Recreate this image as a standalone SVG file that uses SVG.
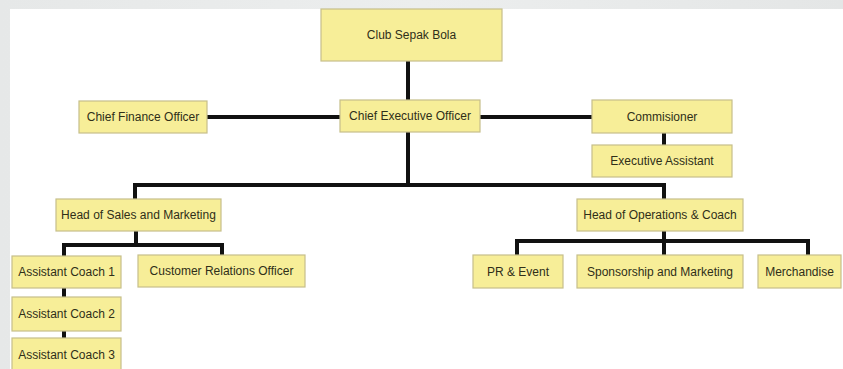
<svg xmlns="http://www.w3.org/2000/svg" width="843" height="369" viewBox="0 0 843 369">
  <style>
    .box rect { fill: #f7ee98; stroke: #c6bf8a; stroke-width: 1.2; }
    .box text { font-family: "Liberation Sans", Arial, sans-serif; font-size: 12px; fill: #2f2f18; text-anchor: middle; dominant-baseline: central; }
    #connectors path { fill: none; stroke: #111; stroke-width: 4; stroke-linejoin: miter; stroke-linecap: butt; }
  </style>
  <defs>
    <linearGradient id="bg" x1="0" y1="0" x2="1" y2="0">
      <stop offset="0" stop-color="#e6e8e8"/>
      <stop offset="0.5" stop-color="#eceeee"/>
      <stop offset="1" stop-color="#e4e6e6"/>
    </linearGradient>
  </defs>

  <!-- page background and white sheet -->
  <rect x="0" y="0" width="843" height="369" fill="url(#bg)"/>
  <rect x="10" y="9" width="833" height="360" fill="#ffffff"/>

  <!-- connectors -->
  <g id="connectors">
    <path d="M408 61 V100"/>
    <path d="M207 117 H340"/>
    <path d="M480 117 H592"/>
    <path d="M664 133 V145"/>
    <path d="M408 132 V185"/>
    <path d="M135 199 V185 H664 V199"/>
    <path d="M136 231 V245"/>
    <path d="M64 256 V245 H222 V256"/>
    <path d="M664 231 V255"/>
    <path d="M517 255 V241 H808 V255"/>
    <path d="M64 288 V297"/>
    <path d="M64 331 V338"/>
  </g>

  <!-- nodes -->
  <g id="club" class="box"><rect x="321" y="9" width="181" height="52"/><text x="411.5" y="35">Club Sepak Bola</text></g>
  <g id="cfo" class="box"><rect x="79" y="101" width="128" height="32"/><text x="143" y="117">Chief Finance Officer</text></g>
  <g id="ceo" class="box"><rect x="340" y="100" width="140" height="32"/><text x="410" y="116">Chief Executive Officer</text></g>
  <g id="commissioner" class="box"><rect x="592" y="100" width="140" height="33"/><text x="662" y="116.5">Commisioner</text></g>
  <g id="exec-assistant" class="box"><rect x="592" y="145" width="140" height="32"/><text x="662" y="161">Executive Assistant</text></g>
  <g id="head-sales" class="box"><rect x="56" y="199" width="165" height="32"/><text x="138.5" y="215">Head of Sales and Marketing</text></g>
  <g id="head-ops" class="box"><rect x="577" y="199" width="166" height="32"/><text x="660" y="215">Head of Operations &amp; Coach</text></g>
  <g id="asst-coach-1" class="box"><rect x="12" y="256" width="109" height="32"/><text x="66.5" y="272">Assistant Coach 1</text></g>
  <g id="cust-relations" class="box"><rect x="138" y="255" width="167" height="32"/><text x="221.5" y="271">Customer Relations Officer</text></g>
  <g id="asst-coach-2" class="box"><rect x="12" y="297" width="109" height="34"/><text x="66.5" y="314">Assistant Coach 2</text></g>
  <g id="asst-coach-3" class="box"><rect x="12" y="338" width="109" height="34"/><text x="66.5" y="355">Assistant Coach 3</text></g>
  <g id="pr-event" class="box"><rect x="473" y="255" width="90" height="33"/><text x="518" y="271.5">PR &amp; Event</text></g>
  <g id="sponsorship" class="box"><rect x="577" y="255" width="166" height="33"/><text x="660" y="271.5">Sponsorship and Marketing</text></g>
  <g id="merchandise" class="box"><rect x="758" y="255" width="83" height="33"/><text x="799.5" y="271.5">Merchandise</text></g>
</svg>
